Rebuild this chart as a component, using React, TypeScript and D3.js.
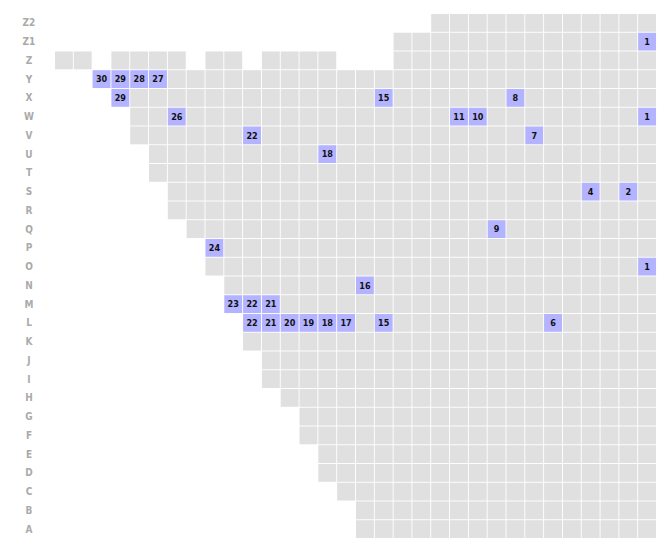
import React, { useEffect, useRef } from 'react'
import * as d3 from 'd3'

// rows listed top to bottom
const rowLabels = ['Z2', 'Z1', 'Z', 'Y', 'X', 'W', 'V', 'U', 'T', 'S', 'R', 'Q', 'P', 'O',
    'N', 'M', 'L', 'K', 'J', 'I', 'H', 'G', 'F', 'E', 'D', 'C', 'B', 'A']
// first filled column of each row (same order as rowLabels)
const rowStart = [20, 18, 0, 2, 3, 4, 4, 5, 5, 6, 6, 7, 8, 8, 9, 9, 10, 10, 11, 11, 12, 13, 13, 14, 14, 15, 16, 16]
const columnCount = 32
// holes in the Z row
const zRowGaps = [2, 7, 10, 15, 16, 17]

// marked cells: row, column, value
const markedRows = ['Z1', 'Y', 'Y', 'Y', 'Y', 'X', 'X', 'X', 'W', 'W', 'W', 'W', 'V', 'V', 'U', 'S', 'S',
    'Q', 'P', 'O', 'N', 'M', 'M', 'M', 'L', 'L', 'L', 'L', 'L', 'L', 'L', 'L']
const markedCols = [31, 2, 3, 4, 5, 3, 17, 24, 6, 21, 22, 31, 10, 25, 14, 28, 30,
    23, 8, 31, 16, 9, 10, 11, 10, 11, 12, 13, 14, 15, 17, 26]
const markedValues = [1, 30, 29, 28, 27, 29, 15, 8, 26, 11, 10, 1, 22, 7, 18, 4, 2,
    9, 24, 1, 16, 23, 22, 21, 22, 21, 20, 19, 18, 17, 15, 6]

const width = 650
const height = 531

const App = () => {
    const svgRef = useRef()

    useEffect(() => {
        const svg = d3.select(svgRef.current)
        svg.selectAll('*').remove()

        const x = d3.scaleBand()
            .domain(d3.range(columnCount))
            .range([46.5, 648.5])
            .paddingInner(0.05)
            .paddingOuter(0.025)

        const y = d3.scaleBand()
            .domain(rowLabels)
            .range([5.5, 530.5])
            .paddingInner(0.05)
            .paddingOuter(0.025)

        const marked = markedRows.map((r, i) => ({ row: r, col: markedCols[i], value: markedValues[i] }))
        const markKey = m => m.row + '|' + m.col
        const markMap = new Map(marked.map(m => [markKey(m), m]))

        const cells = []
        rowLabels.forEach((row, ri) => {
            for (let c = rowStart[ri]; c < columnCount; c++) {
                if (row === 'Z' && zRowGaps.includes(c)) continue
                const m = markMap.get(row + '|' + c)
                cells.push({ row, col: c, value: m ? m.value : null })
            }
        })

        svg.append('g')
            .selectAll('text')
            .data(rowLabels)
            .join('text')
            .attr('x', 21)
            .attr('y', d => y(d) + y.bandwidth() / 2)
            .attr('dy', '0.35em')
            .attr('text-anchor', 'middle')
            .attr('fill', '#aaa')
            .attr('font-size', 10)
            .attr('font-weight', 'bold')
            .attr('font-family', "'DejaVu Sans Condensed', 'DejaVu Sans', sans-serif")
            .text(d => d)

        const g = svg.append('g')

        g.selectAll('rect')
            .data(cells)
            .join('rect')
            .attr('x', d => x(d.col))
            .attr('y', d => y(d.row))
            .attr('width', x.bandwidth())
            .attr('height', y.bandwidth())
            .attr('fill', d => d.value != null ? '#b3b3ff' : '#e0e0e0')

        g.selectAll('text')
            .data(cells.filter(d => d.value != null))
            .join('text')
            .attr('x', d => x(d.col) + x.bandwidth() / 2)
            .attr('y', d => y(d.row) + y.bandwidth() / 2)
            .attr('dy', '0.35em')
            .attr('text-anchor', 'middle')
            .attr('fill', '#111')
            .attr('font-size', 9)
            .attr('font-weight', 'bold')
            .attr('font-family', "'DejaVu Sans Condensed', 'DejaVu Sans', sans-serif")
            .text(d => d.value)
    }, [])

    return (
        <svg ref={svgRef} width={width} height={height} style={{ display: 'block' }} />
    )
}

export default App
